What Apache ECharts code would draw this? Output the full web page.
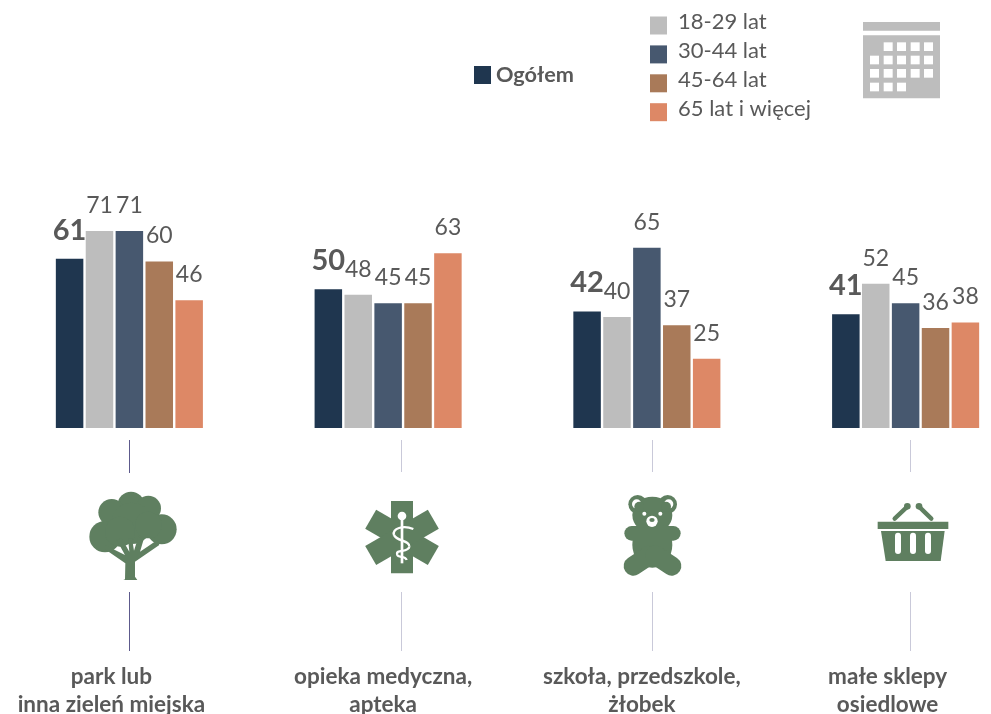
<!DOCTYPE html>
<html><head><meta charset="utf-8">
<style>html,body{margin:0;padding:0;background:#fff}#c{width:991px;height:714px}</style>
<script src="https://cdn.jsdelivr.net/npm/echarts@6/dist/echarts.min.js"></script>
</head><body><div id="c"></div>
<script>
const categories = ['park lub\ninna zieleń miejska','opieka medyczna,\napteka','szkoła, przedszkole,\nżłobek','małe sklepy\nosiedlowe'];
const seriesNames = ['Ogółem','18-29 lat','30-44 lat','45-64 lat','65 lat i więcej'];
const ogolem = [61,50,42,41];
const age18 = [71,48,40,52];
const age30 = [71,45,65,45];
const age45 = [60,45,37,36];
const age65 = [46,63,25,38];
const allValues = [ogolem,age18,age30,age45,age65];
const colors = ['#1f364f','#bdbdbd','#47586f','#a97a59','#dd8866'];
const TEXT = '#595959', GREEN = '#5f7f60', FONT = 'Lato, Carlito, sans-serif';
const labelPad = [36,10,10,36];

const chart = echarts.init(document.getElementById('c'),null,{renderer:'canvas'});

const rich = {};
labelPad.forEach((p,i)=>{rich['c'+i]={fontFamily:FONT,fontSize:22.5,fontWeight:'bold',color:TEXT,lineHeight:28,padding:[0,p,0,0]};});

const series = seriesNames.map((n,i)=>({
  name:n,type:'bar',data:allValues[i],barWidth:27.5,barGap:'8.7%',
  itemStyle:{color:colors[i]},
  label:{show:true,position:'top',distance:14,fontFamily:FONT,color:TEXT,
    fontSize:i===0?29:23,fontWeight:i===0?'bold':'normal'}
}));

function vline(x,y1,y2,c){return {type:'line',silent:true,shape:{x1:x,y1:y1,x2:x,y2:y2},style:{stroke:c,lineWidth:1}};}
function gc(cx,cy,r,fill){return {type:'circle',shape:{cx,cy,r},style:{fill:fill||GREEN}};}
function ge(cx,cy,rx,ry,fill){return {type:'circle',shape:{cx:0,cy:0,r:1},x:cx,y:cy,scaleX:rx,scaleY:ry,style:{fill:fill||GREEN}};}
function gl(x1,y1,x2,y2,w,c){return {type:'line',shape:{x1,y1,x2,y2},style:{stroke:c||GREEN,lineWidth:w,lineCap:'round'}};}
function gr(x,y,width,height,fill,r){return {type:'rect',shape:{x,y,width,height,r:r||0},style:{fill:fill||GREEN}};}
function poly(points,fill){return {type:'polygon',shape:{points},style:{fill:fill||GREEN}};}
function bz(x1,y1,cpx1,cpy1,cpx2,cpy2,x2,y2){return {type:'bezierCurve',shape:{x1,y1,cpx1,cpy1,cpx2,cpy2,x2,y2},style:{fill:'none',stroke:'#fff',lineWidth:7}};}

const calChildren=[gr(1269,66,231,26,'#bdbdbd'),gr(1269,106,231,189,'#bdbdbd')];
const colX=[1290,1331,1371,1412,1452],rowY=[127,167,207,248],rowCols=[[1,2,3,4],[0,1,2,3,4],[0,1,2,3,4],[0,1,2]];
rowCols.forEach((cols,r)=>cols.forEach(c=>calChildren.push(gr(colX[c],rowY[r],27,26,'#fff'))));

const tree=[gc(183,75,40),gc(125,97,40),gc(235,85,38),gc(105,170,47),gc(275,148,45),gc(185,130,62),gc(235,135,40),gc(150,155,45),
  poly([[165,298],[160,300],[202,300],[195,290],[195,245],[268,195],[262,180],[210,215],[222,175],[205,170],[192,212],[186,175],[174,175],[178,215],[155,175],[140,180],[165,225],[105,195],[105,208],[166,250]])
];

const star=[gr(963,63,66,217),
  {type:'rect',shape:{x:-33,y:-108.5,width:66,height:217},x:996,y:172,rotation:Math.PI/3,style:{fill:GREEN}},
  {type:'rect',shape:{x:-33,y:-108.5,width:66,height:217},x:996,y:172,rotation:-Math.PI/3,style:{fill:GREEN}},
  gr(992,110,8,140,'#fff'),gc(996,108,13,'#fff'),
  bz(1030,147,1000,135,965,145,972,165),bz(972,165,980,185,1020,180,1018,200),bz(1018,200,1015,220,975,205,982,225),bz(982,225,985,235,1005,225,1010,240)
];

const bear=[gc(113,73,28),gc(203,73,28),ge(157,105,60,55),ge(157,195,60,68),
  gl(95,160,220,160,44),gl(100,258,150,225,58),gl(215,258,165,225,58),
  gc(110,72,14,'#fff'),gc(118,80,15),gc(206,72,14,'#fff'),gc(198,80,15),
  gc(133,101,6,'#fff'),gc(181,101,6,'#fff'),gc(156,124,17,'#fff'),ge(156,120,8,6)];

const basket=[gr(833,125,212,22),
  gl(884,116,922,80,13),gl(994,116,957,80,13),gc(922,79,10),gc(957,79,10),
  poly([[843,153],[1034,153],[1022,243],[857,243]]),
  gr(885,158,18,64,'#fff',9),gr(930,158,18,64,'#fff',9),gr(975,158,18,64,'#fff',9)];

const group=(x,y,children)=>({type:'group',x,y,scaleX:1/3,scaleY:1/3,silent:true,children});

chart.setOption({
  animation:false,backgroundColor:'#fff',
  textStyle:{fontFamily:FONT},
  grid:{left:0,width:1035,top:206,height:222,containLabel:false,outerBoundsMode:'none'},
  xAxis:{type:'category',data:categories,axisLine:{show:false},axisTick:{show:false},
    axisLabel:{interval:0,margin:235,hideOverlap:false,
      formatter:(v,i)=>v.split('\n').map(l=>`{c${i}|${l}}`).join('\n'),rich}},
  yAxis:{type:'value',min:0,max:80,show:false},
  legend:[
   {data:['Ogółem'],left:474,top:64,orient:'vertical',itemWidth:17,itemHeight:18,itemGap:0,icon:'rect',padding:0,
    textStyle:{fontFamily:FONT,fontSize:21.7,fontWeight:'bold',color:TEXT,padding:[0,0,7,0]}},
   {data:seriesNames.slice(1),left:650,top:11,orient:'vertical',itemWidth:17,itemHeight:18,itemGap:5.4,icon:'rect',padding:0,
    formatter:n=>`{a|${n}}`,
    textStyle:{fontFamily:FONT,fontSize:22,color:TEXT,padding:[0,0,0,6],
      rich:{a:{fontFamily:FONT,fontSize:22,color:TEXT,padding:[0,0,7,0]}}}}
  ],
  series,
  graphic:[
    vline(129.5,440,473,'#5d5a8c'),vline(129.5,592,651,'#5d5a8c'),
    vline(401.5,440,472,'#c9c9d9'),vline(401.5,592,651,'#c9c9d9'),
    vline(652.5,440,472,'#c9c9d9'),vline(652.5,592,651,'#c9c9d9'),
    vline(910.5,440,472,'#c9c9d9'),vline(910.5,592,651,'#c9c9d9'),
    group(440,0,calChildren),group(70,480,tree),group(70,480,star),group(600,480,bear),group(600,480,basket)
  ]
});
</script></body></html>
